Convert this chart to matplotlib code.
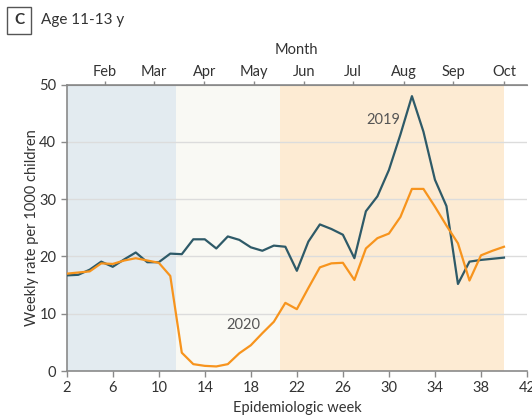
import numpy as np
import matplotlib.pyplot as plt

weeks = list(range(2, 41))
rate_2019 = [16.7, 16.8, 17.7, 19.1, 18.2, 19.5, 20.7, 19.0, 19.0, 20.5,
             20.4, 23.0, 23.0, 21.4, 23.5, 22.9, 21.6, 21.0, 21.9, 21.7,
             17.5, 22.6, 25.6, 24.8, 23.8, 19.7, 27.9, 30.5, 35.1, 41.3,
             48.0, 41.8, 33.4, 28.8, 15.2, 19.1, 19.4, 19.6, 19.8]
rate_2020 = [17.0, 17.2, 17.4, 18.8, 18.7, 19.3, 19.7, 19.3, 18.9, 16.6,
             3.2, 1.2, 0.9, 0.8, 1.2, 3.1, 4.5, 6.6, 8.6, 11.9,
             10.8, 14.5, 18.1, 18.8, 18.9, 15.9, 21.4, 23.2, 24.0, 26.9,
             31.8, 31.8, 28.7, 25.4, 22.3, 15.8, 20.2, 21.0, 21.7]

months = ['Feb', 'Mar', 'Apr', 'May', 'Jun', 'Jul', 'Aug', 'Sep', 'Oct']
month_weeks = [5.33, 9.6, 13.95, 18.3, 22.6, 26.9, 31.3, 35.6, 40.0]

# shaded periods (epidemiologic weeks)
periods = [(2, 11.5, '#e3ebf0'), (11.5, 20.5, '#f9f9f4'), (20.5, 40, '#fdebd3')]

c2019 = '#2e5a68'
c2020 = '#f7941d'
gray = '#8a8a8a'
txt = '#333333'

plt.rcParams['font.family'] = ['Liberation Sans Narrow', 'Lato', 'DejaVu Sans']

fig = plt.figure(figsize=(5.32, 4.18), dpi=100)
ax = fig.add_axes([0.1254, 0.1124, 0.8652, 0.685])

for x0, x1, c in periods:
    ax.axvspan(x0, x1, color=c, lw=0, zorder=0)

for y in [10, 20, 30, 40]:
    ax.axhline(y, color='#dcdcdc', lw=1, zorder=1)

ax.plot(weeks, rate_2019, color=c2019, lw=1.6, zorder=3)
ax.plot(weeks, rate_2020, color=c2020, lw=1.6, zorder=3)

ax.text(29.5, 43.9, '2019', fontsize=10.5, color='#555555', ha='center', va='center')
ax.text(17.36, 8.0, '2020', fontsize=10.5, color='#555555', ha='center', va='center')

ax.set_xlim(2, 42)
ax.set_ylim(0, 50)
ax.set_xticks(range(2, 43, 4))
ax.set_yticks(range(0, 51, 10))
ax.tick_params(colors=gray, labelcolor=txt, labelsize=10.5, length=4, width=1)
for s in ['right']:
    ax.spines[s].set_visible(False)
for s in ['left', 'bottom', 'top']:
    ax.spines[s].set_color(gray)
    ax.spines[s].set_linewidth(1.2)
ax.set_xlabel('Epidemiologic week', fontsize=10.5, color=txt, labelpad=4)
ax.set_ylabel('Weekly rate per 1000 children', fontsize=10.5, color=txt, labelpad=0)

top = ax.secondary_xaxis('top')
top.set_xticks(month_weeks)
top.set_xticklabels(months)
top.tick_params(colors=gray, labelcolor=txt, labelsize=10.5, length=3, width=1, pad=1)
top.spines['top'].set_color(gray)
top.set_xlabel('Month', fontsize=10.5, color=txt, labelpad=8)

fig.text(0.0357, 0.951, 'C', fontsize=11, fontweight='bold', color=txt, ha='center', va='center',
         bbox=dict(boxstyle='square,pad=0.45', fc='white', ec='#555555', lw=1))
fig.text(0.077, 0.951, 'Age 11-13 y', fontsize=11, color=txt, ha='left', va='center')

fig.savefig('out.png', dpi=100)
